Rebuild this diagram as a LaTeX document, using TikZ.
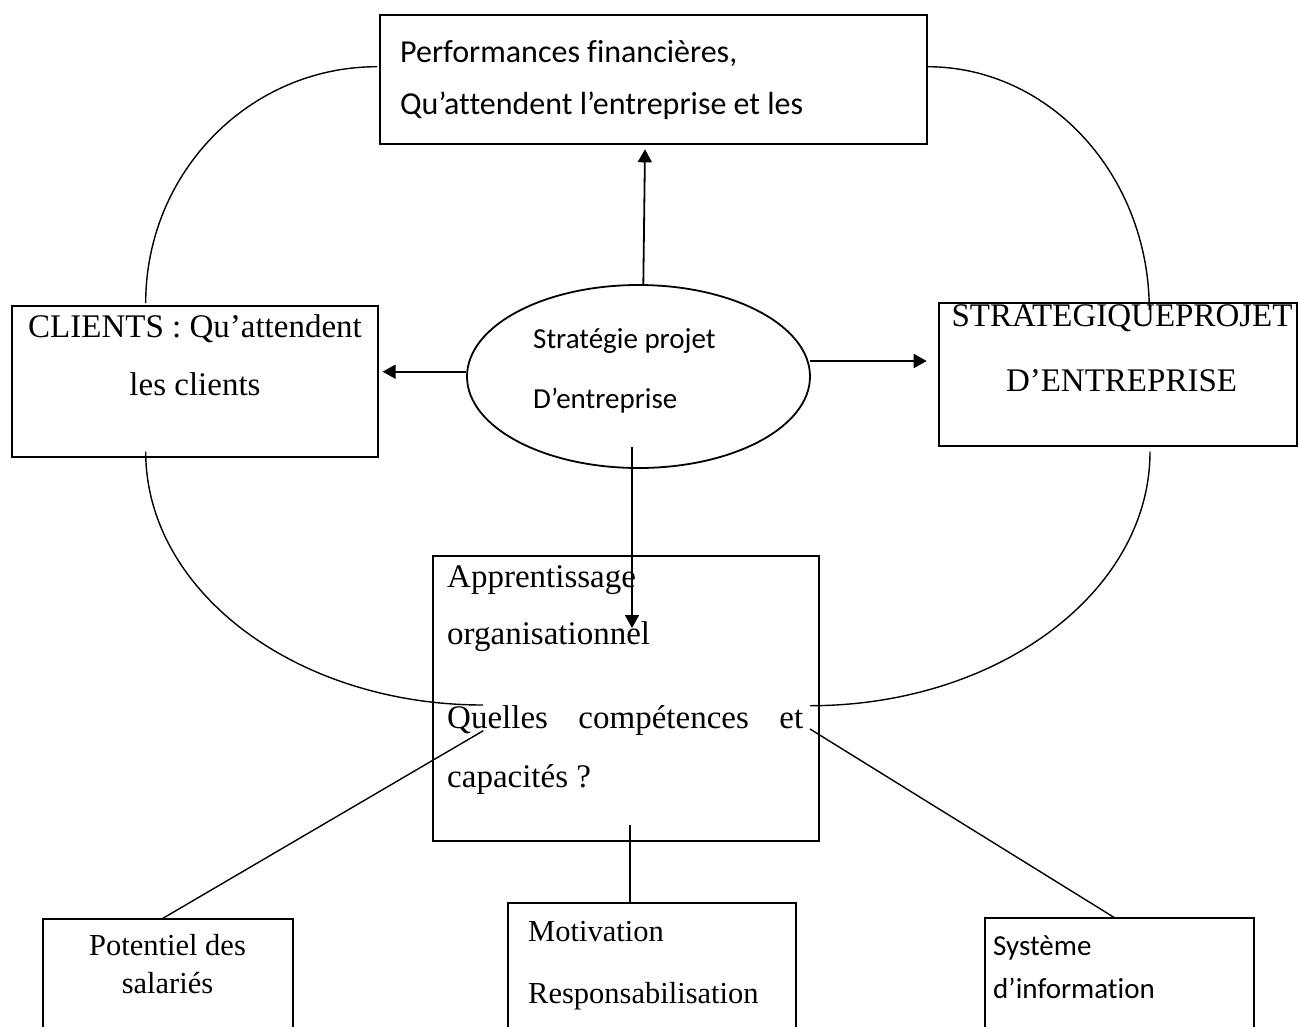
\documentclass[tikz,border=0pt]{standalone}
\usepackage{fontspec}
\setmainfont{Liberation Serif}
\newfontfamily\calibri[Ligatures=NoCommon]{Carlito}
\usetikzlibrary{arrows.meta,shapes.geometric}
\begin{document}
\begin{tikzpicture}[x=1pt,y=-1pt,
  box/.style={draw, line width=2.2pt, rectangle, inner sep=0pt},
  arcline/.style={line width=1.4pt},
  arr/.style={line width=1.8pt, -{Triangle[width=14pt,length=13pt]}},
  link/.style={line width=1.4pt},
  txt/.style={inner sep=0pt},
  bigserif/.style={txt, font=\fontsize{33}{40}\selectfont},
  smallserif/.style={txt, font=\fontsize{30.5}{36}\selectfont},
  sanstxt/.style={txt, font=\calibri\fontsize{#1}{#1}\selectfont}]
\useasboundingbox (0,0) rectangle (1298,1026);
\clip (0,0) rectangle (1298,1026);

% --- boxes -------------------------------------------------------------
\node[box, minimum width=547pt, minimum height=129pt] (top) at (653.5,79.5) {};
\node[box, minimum width=366pt, minimum height=151pt] (clients) at (195,381.5) {};
\node[box, minimum width=358pt, minimum height=143pt] (strat) at (1118,374.5) {};
\node[box, minimum width=386.3pt, minimum height=284.7pt] (appr) at (625.8,698.3) {};
\node[draw, ellipse, line width=1.8pt, inner sep=0pt,
      minimum width=343pt, minimum height=183pt] (ell) at (638.5,376.5) {};
% bottom boxes run off the lower edge of the page
\node[box, line width=2pt, minimum width=250pt, minimum height=141pt] (pot) at (167.7,989.5) {};
\node[box, line width=2pt, minimum width=288pt, minimum height=157pt] (moti) at (652,981.5) {};
\node[box, line width=2pt, minimum width=269pt, minimum height=142pt] (sys) at (1119.5,989) {};

% --- texts -------------------------------------------------------------
\node[sanstxt=32, anchor=base west] (top1) at (400,62) {Performances financières,};
\node[sanstxt=32, anchor=base west] (top2) at (400,114) {Qu’attendent l’entreprise et les};

\node[sanstxt=29, anchor=base west] (ell1) at (533,348) {Stratégie projet};
\node[sanstxt=29, anchor=base west] (ell2) at (533,408) {D’entreprise};

\node[bigserif, anchor=base] (cl1) at (195,337) {CLIENTS : Qu’attendent};
\node[bigserif, anchor=base] (cl2) at (195,395) {les clients};

\node[bigserif, anchor=base] (st1) at (1122,326) {STRATEGIQUEPROJET};
\node[bigserif, anchor=base] (st2) at (1121.5,391) {D’ENTREPRISE};

\node[bigserif, anchor=base west] (ap1) at (447,587) {Apprentissage};
\node[bigserif, anchor=base west] (ap2) at (447,644) {organisationnel};
\node[bigserif, anchor=base west] (ap3) at (447,728)
  {\hbox to 356pt{Quelles\hfill compétences\hfill et}};
\node[bigserif, anchor=base west] (ap4) at (447,787) {capacités ?};

\node[smallserif, anchor=base] (po1) at (167.5,955) {Potentiel des};
\node[smallserif, anchor=base] (po2) at (167.5,993) {salariés};

\node[smallserif, anchor=base west] (mo1) at (528,941) {Motivation};
\node[smallserif, anchor=base west] (mo2) at (528,1003) {Responsabilisation};

\node[sanstxt=29, anchor=base west] (sy1) at (993,955) {Système};
\node[sanstxt=29, anchor=base west] (sy2) at (993,998) {d’information};

% --- curved links between the outer boxes -------------------------------
\coordinate (tlA) at (377,66.7);
\coordinate (tlB) at (145.7,303);
\coordinate (trA) at (927.3,66.7);
\coordinate (trB) at (1149.3,310);
\coordinate (blA) at (145.7,451.7);
\coordinate (blB) at (483,705);
\coordinate (brA) at (1150,451.7);
\coordinate (brB) at (810,705.7);

\draw[arcline] (tlA) .. controls (249.3,66.7) and (145.7,172.5) .. (tlB);
\draw[arcline] (trA) .. controls (1049.9,66.7) and (1149.3,175.6) .. (trB);
\draw[arcline] (blA) .. controls (145.7,591.6) and (296.7,705) .. (blB);
\draw[arcline] (brA) .. controls (1150,592) and (997.8,705.7) .. (brB);

% --- arrows from the central ellipse ------------------------------------
\coordinate (upS) at (643.3,285);
\coordinate (upE) at (645,149.3);
\draw[arr] (upS) -- (upE);

\draw[arr] ([yshift=4.8pt]ell.west) -- ([yshift=4.8pt]ell.west -| clients.east)
  [shorten >=3.5pt];
\coordinate (rtS) at (810,361);
\coordinate (rtE) at (926.7,361);
\draw[arr] (rtS) -- (rtE);

\coordinate (dnS) at (632,447);
\coordinate (dnE) at (632,628);
\draw[arr] (dnS) -- (dnE);

% --- links down to the three base boxes ---------------------------------
\coordinate (lkL) at (483.3,730.7);
\coordinate (lkM) at (630,825);
\coordinate (lkR) at (810,729);
\draw[link] (lkL) -- (161.7,919);
\draw[link] (lkM) -- (lkM |- moti.north);
\draw[link] (lkR) -- (1115,918);
\end{tikzpicture}
\end{document}
